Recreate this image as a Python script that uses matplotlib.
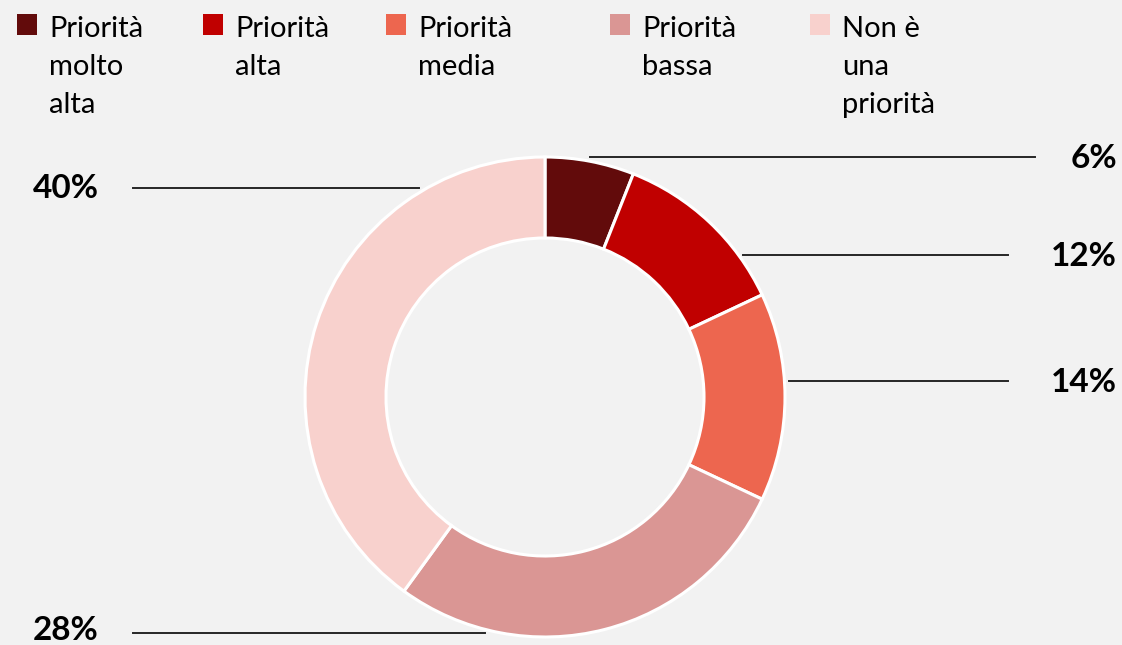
import matplotlib
matplotlib.use("Agg")
import matplotlib.pyplot as plt
from matplotlib.patches import Rectangle

plt.rcParams['font.family'] = ['Lato', 'DejaVu Sans']

categories = ['Priorità\nmolto\nalta', 'Priorità\nalta', 'Priorità\nmedia',
              'Priorità\nbassa', 'Non è\nuna\npriorità']
shares = [6, 12, 14, 28, 40]
colors = ['#620B0B', '#C00000', '#ED664F', '#DA9694', '#F8D1CD']

W, H = 1122, 645
BG = '#F2F2F2'

fig = plt.figure(figsize=(W / 100, H / 100), dpi=100, facecolor=BG)
ax = fig.add_axes([0, 0, 1, 1])
ax.axis('off')

# donut, in pixel units (y measured from the top)
cx, cy, r_out, r_in = 545, 397, 240, 159
ax.pie(shares, colors=colors, center=(cx, H - cy), radius=r_out,
       startangle=90, counterclock=False,
       wedgeprops=dict(width=r_out - r_in, edgecolor='white', linewidth=2.2))
ax.set_xlim(0, W)
ax.set_ylim(0, H)
ax.set_aspect('equal')

# value labels: label y, leader y, leader x span, side
label_pos = [(159, 157, (590, 1035), 'right'),
             (256, 255, (743, 1008), 'right'),
             (382, 381, (789, 1008), 'right'),
             (630, 633, (133, 485), 'left'),
             (188, 188, (133, 419), 'left')]

for val, (ty, ly, (x0, x1), side) in zip(shares, label_pos):
    ax.plot([x0, x1], [H - ly, H - ly], color='#262626', lw=1.4)
    tx = 1117 if side == 'right' else 33
    ax.text(tx, H - ty, f'{val}%', ha=side, va='center',
            fontsize=24, fontweight='bold', color='black')

# legend across the top
sq_x = [17, 203, 386, 610, 810]
for x0, name, c in zip(sq_x, categories, colors):
    ax.add_patch(Rectangle((x0, H - 35), 20, 21, facecolor=c, edgecolor='none'))
    for i, line in enumerate(name.split('\n')):
        ax.text(x0 + 32, H - (37 + 38 * i), line, ha='left', va='baseline',
                fontsize=21, color='black')

fig.savefig('out.png', dpi=100, facecolor=BG)
